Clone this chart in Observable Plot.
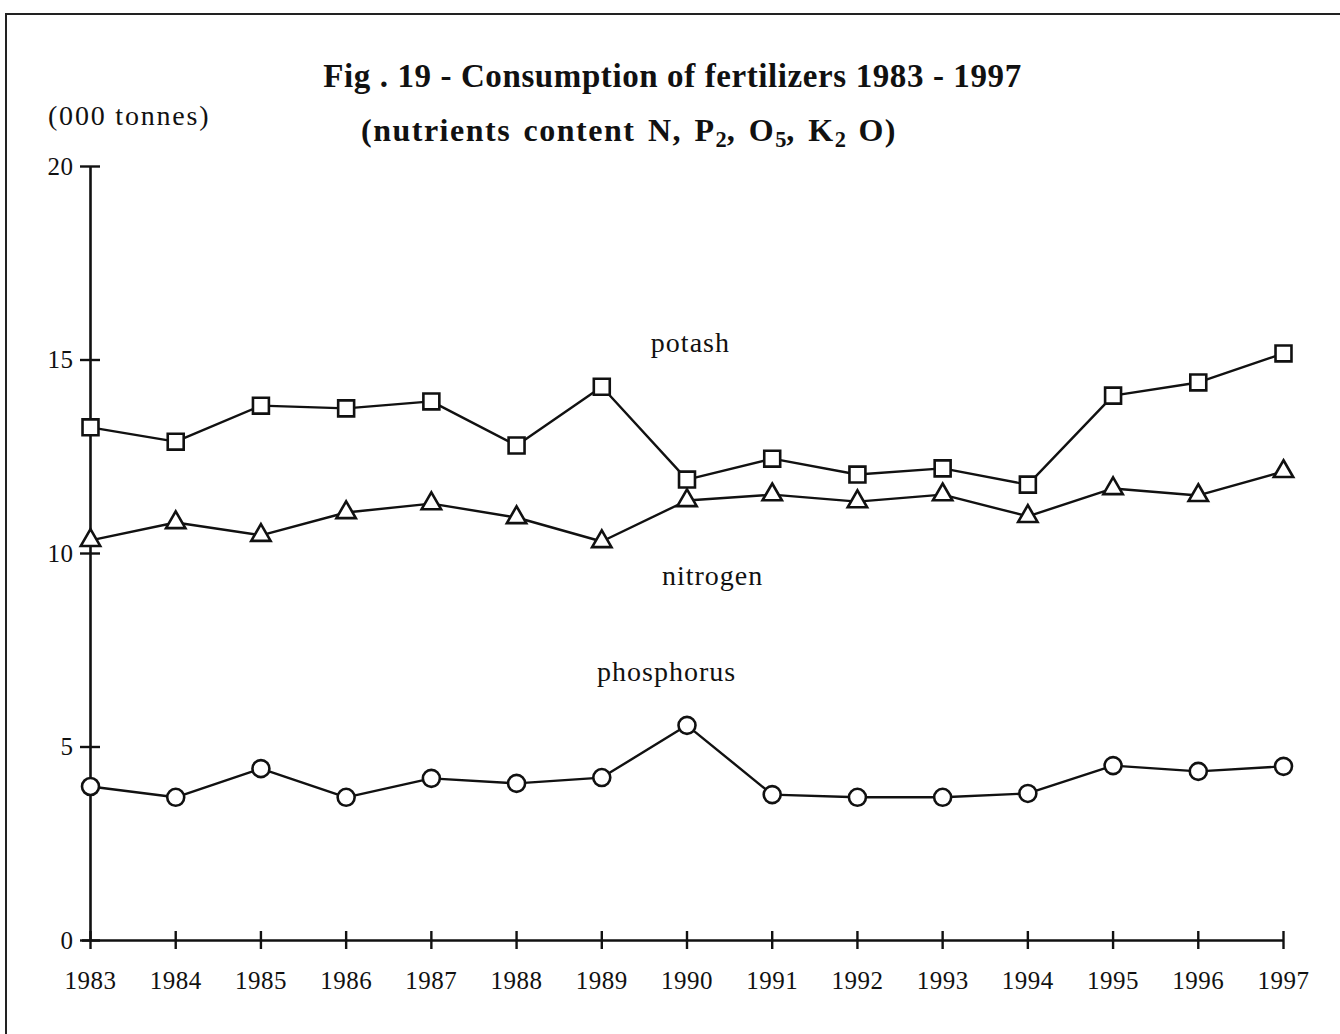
<!DOCTYPE html>
<html>
<head>
<meta charset="utf-8">
<script src="https://cdn.jsdelivr.net/npm/d3@7"></script>
<script src="https://cdn.jsdelivr.net/npm/@observablehq/plot@0.6"></script>
<style>
  html, body { margin: 0; padding: 0; background: #fff; }
  #wrap { position: relative; width: 1340px; height: 1034px; overflow: hidden; font-family: "Liberation Serif", "Times New Roman", serif; color: #111; }
  #frame { position: absolute; left: 5px; top: 13px; width: 1400px; height: 1100px; border-top: 2px solid #222; border-left: 2px solid #222; }
  #header { position: relative; height: 140px; }
  .t { position: absolute; white-space: nowrap; line-height: 1; }
  #title { left: 0; width: 1345px; text-align: center; top: 60px; font-size: 33px; font-weight: bold; letter-spacing: 0.6px; }
  #subtitle { left: 0; width: 1258px; text-align: center; top: 114px; font-size: 32px; font-weight: bold; letter-spacing: 1.5px; word-spacing: 3px; }
  #unit { left: 48px; top: 102px; font-size: 28px; letter-spacing: 1.8px; }
  #chart { position: absolute; left: 0; top: 140px; }
  sub { font-size: 0.7em; vertical-align: -0.25em; line-height: 0; letter-spacing: 0; }
  #chart g[aria-label="text"] text { letter-spacing: 1px; }
  #chart g[aria-label="x-axis tick label"] text,
  #chart g[aria-label="y-axis tick label"] text { letter-spacing: 0.5px; }
</style>
</head>
<body>
<div id="wrap">
  <div id="frame"></div>
  <div id="header">
    <div class="t" id="title">Fig . 19 - Consumption of fertilizers 1983 - 1997</div>
    <div class="t" id="unit">(000 tonnes)</div>
    <div class="t" id="subtitle">(nutrients content N, P<sub>2</sub>, O<sub>5</sub>, K<sub>2</sub> O)</div>
  </div>
  <div id="chart"></div>
</div>
<script>
const years = [1983, 1984, 1985, 1986, 1987, 1988, 1989, 1990, 1991, 1992, 1993, 1994, 1995, 1996, 1997];
const potash =     [13.26, 12.89, 13.82, 13.75, 13.93, 12.79, 14.31, 11.91, 12.45, 12.04, 12.20, 11.78, 14.08, 14.42, 15.17];
const nitrogen =   [10.34, 10.80, 10.47, 11.06, 11.29, 10.93, 10.31, 11.37, 11.52, 11.34, 11.52, 10.96, 11.68, 11.50, 12.12];
const phosphorus = [3.98, 3.70, 4.44, 3.70, 4.19, 4.06, 4.21, 5.56, 3.77, 3.70, 3.70, 3.80, 4.52, 4.37, 4.50];
const yTicks = [0, 5, 10, 15, 20];
const xTicks = years;
const seriesNames = ["potash", "nitrogen", "phosphorus"];
const labelX = [1990.04, 1990.3, 1989.76];
const labelY = [15.43, 9.43, 6.93];

const series = [
  {name: "potash", values: potash, symbol: "square", r: 9},
  {name: "nitrogen", values: nitrogen, symbol: "triangle", r: 7.2},
  {name: "phosphorus", values: phosphorus, symbol: "circle", r: 8.5}
];
const rows = series.flatMap(s => years.map((yr, i) => ({series: s.name, year: yr, value: s.values[i]})));
const labels = seriesNames.map((n, i) => ({name: n, x: labelX[i], y: labelY[i]}));

const marks = [
  Plot.ruleX([1983], {y1: 0, y2: 20, stroke: "#111", strokeWidth: 2.6}),
  Plot.ruleY([0], {x1: 1983, x2: 1997, insetLeft: -8, stroke: "#111", strokeWidth: 2.6}),
  Plot.ruleY(yTicks, {y: d => d, x1: 1983, x2: 1983, insetLeft: -10, insetRight: -10, stroke: "#111", strokeWidth: 2.4}),
  Plot.ruleX(xTicks, {x: d => d, y1: 0, y2: 0, insetTop: -9, insetBottom: -9, stroke: "#111", strokeWidth: 2.4}),
  Plot.axisY(yTicks, {tickSize: 0, tickPadding: 17, fontSize: 25, tickFormat: d => String(d), fill: "#111"}),
  Plot.axisX(xTicks, {tickSize: 0, tickPadding: 31, fontSize: 25, tickFormat: d => String(d), fill: "#111"})
];
for (const s of series) {
  const data = rows.filter(d => d.series === s.name);
  marks.push(Plot.line(data, {x: "year", y: "value", stroke: "#111", strokeWidth: 2.4}));
  marks.push(Plot.dot(data, {x: "year", y: "value", symbol: () => s.symbol, r: s.r, fill: "white", stroke: "#111", strokeWidth: 2.6}));
}
marks.push(Plot.text(labels, {x: "x", y: "y", text: "name", fontSize: 28, fill: "#111"}));

const chart = Plot.plot({
  width: 1340,
  height: 894,
  marginTop: 26,
  marginBottom: 94,
  marginLeft: 90,
  marginRight: 57,
  style: {fontFamily: "'Liberation Serif', 'Times New Roman', serif", background: "transparent", overflow: "visible"},
  x: {domain: [1983, 1997], axis: null},
  y: {domain: [0, 20], axis: null},
  symbol: {type: "identity"},
  marks
});
document.getElementById("chart").appendChild(chart);
</script>
</body>
</html>
